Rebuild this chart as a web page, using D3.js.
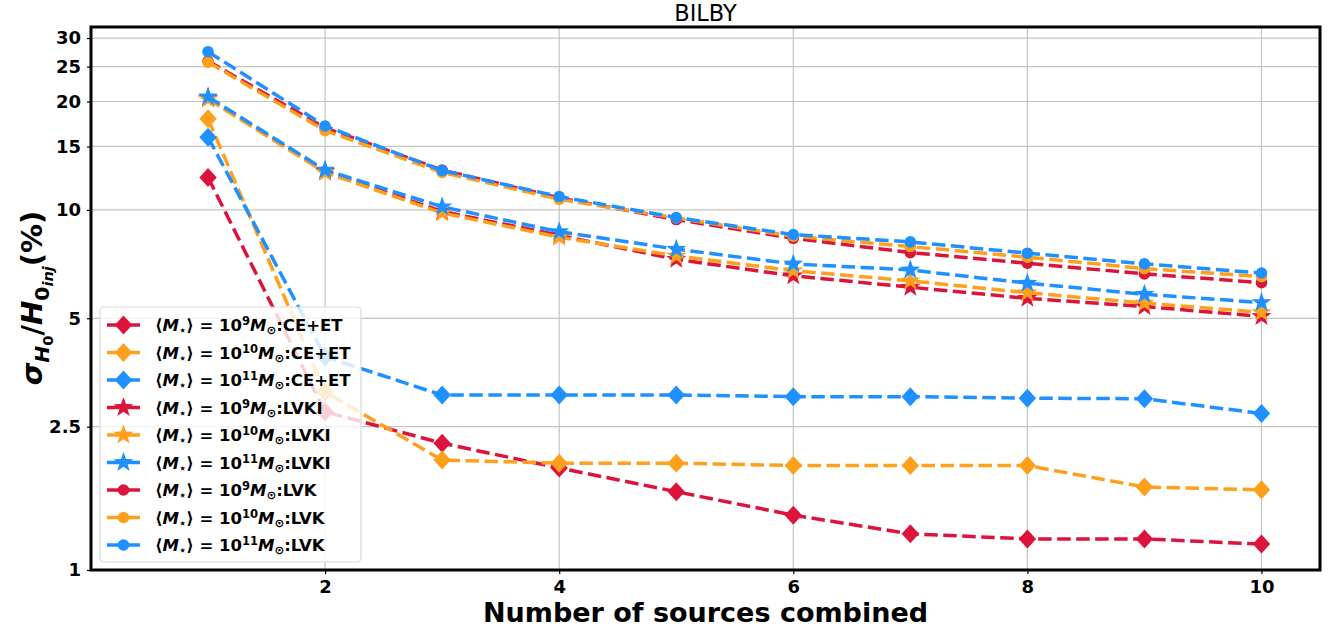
<!DOCTYPE html>
<html>
<head>
<meta charset="utf-8">
<script src="https://cdn.jsdelivr.net/npm/d3@7"></script>
<style>
  html, body { margin: 0; padding: 0; background: #ffffff; }
  svg { display: block; }
  text { font-family: "DejaVu Sans", sans-serif; }
</style>
</head>
<body>
<svg id="chart" width="1333" height="633"></svg>
<script>
// Number of sources combined
const sources = [1, 2, 3, 4, 5, 6, 7, 8, 9, 10];

// sigma_H0 / H0_inj (%) — CE+ET network
const ceet_1e9  = [12.3, 2.75, 2.25, 1.92, 1.65, 1.42, 1.26, 1.22, 1.22, 1.18];
const ceet_1e10 = [17.9, 3.12, 2.02, 1.98, 1.98, 1.95, 1.95, 1.95, 1.70, 1.67];
const ceet_1e11 = [15.9, 3.91, 3.06, 3.06, 3.06, 3.03, 3.03, 3.00, 2.99, 2.72];

// LVKI network
const lvki_1e9  = [20.4, 12.8, 9.9, 8.5, 7.29, 6.56, 6.10, 5.68, 5.39, 5.06];
const lvki_1e10 = [20.3, 12.7, 9.8, 8.4, 7.45, 6.78, 6.35, 5.89, 5.51, 5.19];
const lvki_1e11 = [20.6, 12.9, 10.2, 8.7, 7.78, 7.08, 6.81, 6.26, 5.83, 5.53];

// LVK network
const lvk_1e9  = [25.9, 16.9, 12.9, 10.8, 9.4, 8.34, 7.61, 7.11, 6.64, 6.28];
const lvk_1e10 = [25.7, 16.6, 12.7, 10.7, 9.5, 8.45, 7.91, 7.39, 6.87, 6.53];
const lvk_1e11 = [27.5, 17.1, 12.86, 10.89, 9.52, 8.54, 8.15, 7.58, 7.08, 6.68];

const xTicks = [2, 4, 6, 8, 10];
const yTicks = [1, 2.5, 5, 10, 15, 20, 25, 30];
const yTickLabels = ["1", "2.5", "5", "10", "15", "20", "25", "30"];

const massExponents = ["9", "10", "11"];
const networks = ["CE+ET", "LVKI", "LVK"];

const colors = ["#dc143c", "#ffa01c", "#1e90ff"];

const seriesList = [
  { values: ceet_1e9,  mass: 0, net: 0, marker: "diamond" },
  { values: ceet_1e10, mass: 1, net: 0, marker: "diamond" },
  { values: ceet_1e11, mass: 2, net: 0, marker: "diamond" },
  { values: lvki_1e9,  mass: 0, net: 1, marker: "star" },
  { values: lvki_1e10, mass: 1, net: 1, marker: "star" },
  { values: lvki_1e11, mass: 2, net: 1, marker: "star" },
  { values: lvk_1e9,   mass: 0, net: 2, marker: "circle" },
  { values: lvk_1e10,  mass: 1, net: 2, marker: "circle" },
  { values: lvk_1e11,  mass: 2, net: 2, marker: "circle" }
];

const svg = d3.select("#chart");
const plot = { left: 91, right: 1320, top: 27, bottom: 570 };

const x = d3.scaleLinear().domain([0, 10.5]).range([plot.left, plot.right]);
const y = d3.scaleLog().domain([1, 32.2]).range([plot.bottom, plot.top]);

// marker shapes
function diamondPath(r) {
  return `M0,${-r}L${r * 0.92},0L0,${r}L${-r * 0.92},0Z`;
}
function starPath(R) {
  const r = R * 0.4;
  let p = "";
  for (let i = 0; i < 10; i++) {
    const rad = i % 2 === 0 ? R : r;
    const a = -Math.PI / 2 + i * Math.PI / 5;
    p += (i === 0 ? "M" : "L") + (rad * Math.cos(a)).toFixed(2) + "," + (rad * Math.sin(a)).toFixed(2);
  }
  return p + "Z";
}
function drawMarker(g, kind, color) {
  if (kind === "circle") {
    g.append("circle").attr("r", 5.8).attr("fill", color);
  } else if (kind === "diamond") {
    g.append("path").attr("d", diamondPath(9.5)).attr("fill", color);
  } else {
    g.append("path").attr("d", starPath(10.5)).attr("fill", color);
  }
}

// grid
const grid = svg.append("g");
grid.selectAll("line.gx").data(xTicks).enter().append("line")
  .attr("x1", d => x(d)).attr("x2", d => x(d))
  .attr("y1", plot.top).attr("y2", plot.bottom)
  .attr("stroke", "#c4c4c4").attr("stroke-width", 1.2);
grid.selectAll("line.gy").data(yTicks).enter().append("line")
  .attr("x1", plot.left).attr("x2", plot.right)
  .attr("y1", d => y(d)).attr("y2", d => y(d))
  .attr("stroke", "#c4c4c4").attr("stroke-width", 1.2);

// series
const line = d3.line().x((d, i) => x(sources[i])).y(d => y(d));
const seriesG = svg.append("g");
seriesList.forEach(s => {
  const col = colors[s.mass];
  const g = seriesG.append("g");
  g.append("path")
    .attr("d", line(s.values))
    .attr("fill", "none")
    .attr("stroke", col)
    .attr("stroke-width", 3.5)
    .attr("stroke-dasharray", "13.5,5.5");
  s.values.forEach((v, i) => {
    const mg = g.append("g").attr("transform", `translate(${x(sources[i])},${y(v)})`);
    drawMarker(mg, s.marker, col);
  });
});

// axes
const xAxis = d3.axisBottom(x).tickValues(xTicks).tickSize(4).tickPadding(6).tickFormat(d3.format("d"));
const gx = svg.append("g").attr("transform", `translate(0,${plot.bottom})`).call(xAxis);
const yAxis = d3.axisLeft(y).tickValues(yTicks).tickSize(4).tickPadding(6)
  .tickFormat((d, i) => yTickLabels[i]);
const gy = svg.append("g").attr("transform", `translate(${plot.left},0)`).call(yAxis);
[gx, gy].forEach(g => {
  g.select(".domain").remove();
  g.selectAll(".tick line").attr("stroke", "#000").attr("stroke-width", 1.2);
  g.selectAll(".tick text")
    .attr("font-family", "DejaVu Sans")
    .attr("font-weight", "bold")
    .attr("font-size", 18)
    .attr("fill", "#000");
});

// frame
svg.append("rect")
  .attr("x", plot.left).attr("y", plot.top)
  .attr("width", plot.right - plot.left).attr("height", plot.bottom - plot.top)
  .attr("fill", "none").attr("stroke", "#000").attr("stroke-width", 3);

// rich text helper: parts with optional italic / shift (px, negative = up) / size scale
function richText(sel, parts, baseSize) {
  let cur = 0;
  parts.forEach(p => {
    const shift = p.shift || 0;
    const ts = sel.append("tspan")
      .attr("font-size", baseSize * (p.scale || 1))
      .attr("dy", shift - cur)
      .text(p.t);
    if (p.italic) ts.attr("font-style", "italic");
    cur = shift;
  });
}

// title
svg.append("text")
  .attr("x", (plot.left + plot.right) / 2).attr("y", 21)
  .attr("text-anchor", "middle")
  .attr("font-size", 22.5)
  .attr("fill", "#000")
  .text("BILBY");

// x label
svg.append("text")
  .attr("x", (plot.left + plot.right) / 2).attr("y", 622)
  .attr("text-anchor", "middle")
  .attr("font-size", 27).attr("font-weight", "bold")
  .attr("fill", "#000")
  .text("Number of sources combined");

// y label
const yl = svg.append("text")
  .attr("transform", "translate(42,298) rotate(-90)")
  .attr("text-anchor", "middle")
  .attr("font-weight", "bold")
  .attr("fill", "#000");
richText(yl, [
  { t: "σ", italic: true },
  { t: "H", italic: true, shift: 7, scale: 0.7 },
  { t: "0", shift: 11, scale: 0.5 },
  { t: "/", shift: 0 },
  { t: "H", italic: true },
  { t: "0", shift: 7, scale: 0.7 },
  { t: "inj", italic: true, shift: 11, scale: 0.5 },
  { t: "(%)", shift: 0 }
], 29);

// legend
const lg = svg.append("g");
lg.append("rect")
  .attr("x", 100).attr("y", 307).attr("width", 261).attr("height", 255)
  .attr("rx", 4).attr("ry", 4)
  .attr("fill", "#ffffff").attr("fill-opacity", 0.8)
  .attr("stroke", "#d9d9d9").attr("stroke-width", 1.2);

seriesList.forEach((s, i) => {
  const col = colors[s.mass];
  const yy = 325 + i * 27.5;
  const row = lg.append("g").attr("transform", `translate(0,${yy})`);
  row.append("line").attr("x1", 107).attr("x2", 140).attr("y1", 0).attr("y2", 0)
    .attr("stroke", col).attr("stroke-width", 3.5);
  const mg = row.append("g").attr("transform", "translate(123.5,0)");
  drawMarker(mg, s.marker, col);
  const t = row.append("text")
    .attr("x", 155).attr("y", 6)
    .attr("font-weight", "bold").attr("fill", "#000");
  richText(t, [
    { t: "⟨" },
    { t: "M", italic: true },
    { t: "⋆", shift: 3, scale: 0.7 },
    { t: "⟩ = 10", shift: 0 },
    { t: massExponents[s.mass], shift: -6, scale: 0.7 },
    { t: "M", italic: true, shift: 0 },
    { t: "⊙", shift: 3, scale: 0.7 },
    { t: ":" + networks[s.net], shift: 0 }
  ], 16.5);
});
</script>
</body>
</html>
